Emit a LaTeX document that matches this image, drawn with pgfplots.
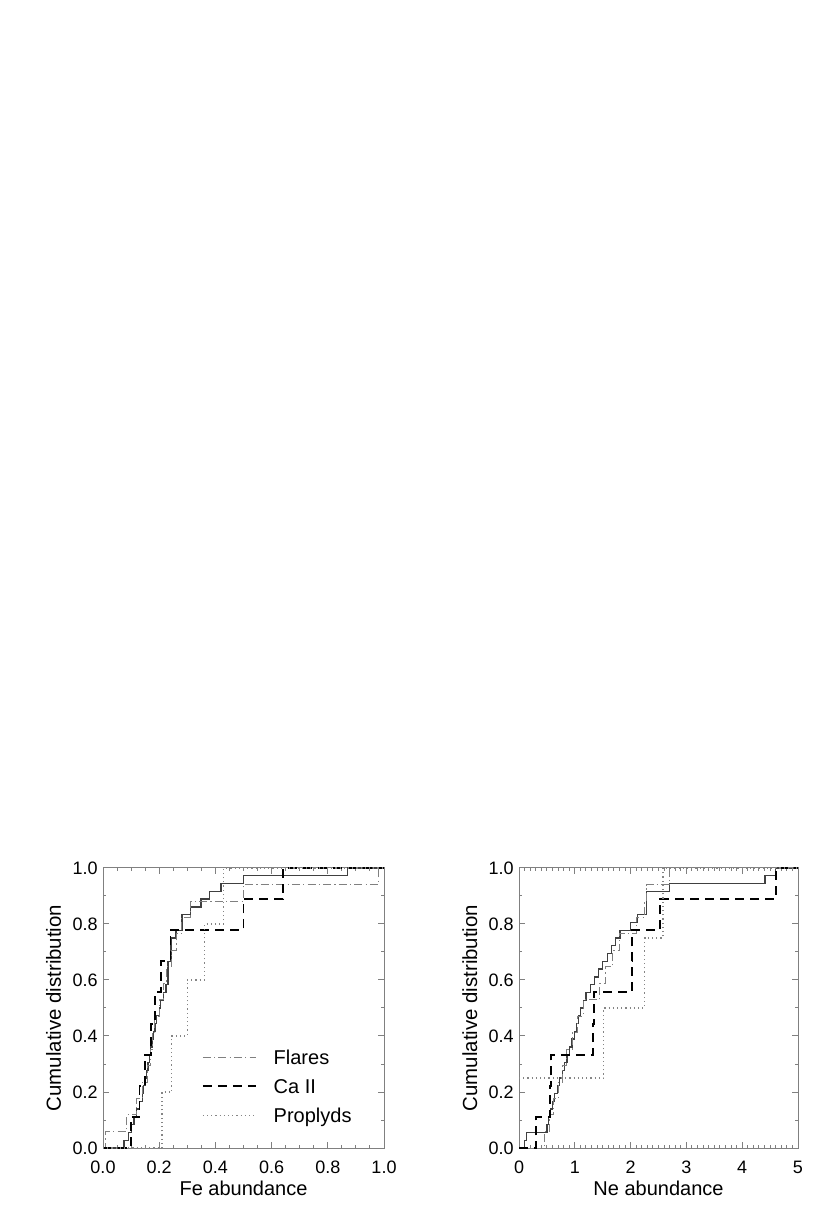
\documentclass[border=0pt]{standalone}
\usepackage{fontspec}
\setmainfont{Liberation Sans}
\usepackage{pgfplots}
\pgfplotsset{compat=1.18}

\tikzset{
  allS/.style={draw=black!75, line width=0.6pt},
  flareS/.style={draw=black!50, line width=0.5pt, dash pattern=on 4pt off 1.6pt on 0.6pt off 1.6pt},
  caS/.style={draw=black, line width=0.9pt, dash pattern=on 4.5pt off 3pt},
  propS/.style={draw=black!48, line width=0.6pt, dash pattern=on 0.6pt off 1.5pt},
}

\pgfplotsset{
  idl/.style={
    scale only axis, height=140pt,
    ymin=0, ymax=1, ytick={0,0.2,0.4,0.6,0.8,1}, minor y tick num=1,
    tick align=inside, tick pos=both,
    major tick length=3pt, minor tick length=1.5pt,
    axis line style={black!50, line width=0.5pt},
    every tick/.style={black!50, line width=0.5pt},
    font=\fontsize{9}{10.8}\selectfont,
    /pgf/number format/assume math mode=true,
    yticklabel style={/pgf/number format/fixed, /pgf/number format/fixed zerofill, /pgf/number format/precision=1, anchor=east, inner sep=0pt, xshift=-2.5pt},
    xticklabel style={anchor=center, inner sep=0pt, yshift=-9.5pt},
    every axis y label/.style={at={(axis description cs:-0.176,0.5)}, rotate=90, anchor=center, font=\fontsize{10.2}{12}\selectfont},
    every axis x label/.style={at={(axis description cs:0.5,-0.143)}, anchor=center, font=\fontsize{10}{12}\selectfont},
    ylabel={Cumulative distribution},
    clip=false,
    const plot,
  }
}

\begin{document}
\begin{tikzpicture}
\path[use as bounding box] (0,0) rectangle (415pt,607pt);

% ---------- Fe abundance ----------
\begin{axis}[idl, at={(51.5pt,33pt)}, anchor=south west, width=140.5pt,
  xmin=0, xmax=1, xtick={0,0.2,0.4,0.6,0.8,1}, minor x tick num=3,
  xticklabel style={/pgf/number format/fixed, /pgf/number format/fixed zerofill, /pgf/number format/precision=1},
  xlabel={Fe abundance},
  legend style={at={(axis cs:0.352,0.35)}, anchor=north west, draw=none, fill=none,
    inner sep=0pt, outer sep=0pt, row sep=7.4pt, column sep=8.5pt,
    nodes={inner sep=0pt, text height=7.1pt, text depth=0pt},
    font=\fontsize{10}{12}\selectfont},
  legend image code/.code={\draw[#1] (0pt,0pt) -- (26.5pt,0pt);},
  legend cell align=left]
\addplot[allS, forget plot] coordinates {
(0,0) (0.075,0.028) (0.09,0.056) (0.10,0.083) (0.11,0.111) (0.12,0.139) (0.13,0.167)
(0.14,0.194) (0.145,0.222) (0.15,0.25) (0.155,0.278) (0.16,0.306) (0.165,0.333)
(0.17,0.361) (0.175,0.389) (0.18,0.417) (0.185,0.444) (0.19,0.472) (0.20,0.5)
(0.205,0.528) (0.215,0.556) (0.224,0.583) (0.231,0.667) (0.242,0.75) (0.26,0.778)
(0.281,0.833) (0.31,0.861) (0.349,0.889) (0.38,0.917) (0.42,0.944) (0.50,0.972)
(0.87,1.0) (1.0,1.0)};
\addplot[flareS] coordinates {
(0,0) (0.01,0.059) (0.085,0.118) (0.12,0.176) (0.14,0.235) (0.16,0.294) (0.17,0.353)
(0.175,0.412) (0.185,0.471) (0.20,0.529) (0.215,0.588) (0.225,0.647) (0.245,0.706)
(0.26,0.765) (0.28,0.824) (0.31,0.882) (0.50,0.941) (0.98,1.0) (1.0,1.0)};
\addlegendentry{Flares}
\addplot[caS] coordinates {
(0,0) (0.10,0.111) (0.13,0.222) (0.15,0.333) (0.17,0.444) (0.185,0.556) (0.205,0.667)
(0.24,0.778) (0.50,0.889) (0.64,1.0) (1.0,1.0)};
\addlegendentry{Ca II}
\addplot[propS] coordinates {
(0,0) (0.21,0.2) (0.245,0.4) (0.30,0.6) (0.36,0.8) (0.43,1.0) (1.0,1.0)};
\addlegendentry{Proplyds}
\end{axis}

% ---------- Ne abundance ----------
\begin{axis}[idl, at={(259.5pt,33pt)}, anchor=south west, width=139.5pt,
  xmin=0, xmax=5, xtick={0,1,2,3,4,5}, minor x tick num=9,
  xlabel={Ne abundance}]
\addplot[allS] coordinates {
(0,0) (0.10,0.028) (0.14,0.056) (0.50,0.083) (0.53,0.111) (0.56,0.139) (0.60,0.167)
(0.64,0.194) (0.69,0.222) (0.73,0.25) (0.78,0.278) (0.82,0.306) (0.86,0.333)
(0.91,0.361) (0.95,0.389) (1.00,0.417) (1.03,0.444) (1.07,0.472) (1.10,0.5)
(1.15,0.528) (1.20,0.556) (1.28,0.583) (1.36,0.611) (1.43,0.639) (1.50,0.667)
(1.58,0.694) (1.66,0.722) (1.73,0.75) (1.81,0.778) (2.00,0.806) (2.13,0.833)
(2.29,0.917) (2.69,0.944) (4.41,0.972) (4.60,1.0) (5,1.0)};
\addplot[flareS] coordinates {
(0,0) (0.45,0.059) (0.55,0.118) (0.62,0.176) (0.70,0.235) (0.78,0.294) (0.85,0.353)
(0.95,0.412) (1.05,0.471) (1.15,0.529) (1.45,0.588) (1.55,0.647) (1.68,0.706)
(1.80,0.765) (2.10,0.824) (2.25,0.882) (2.28,0.941) (2.69,1.0) (5,1.0)};
\addplot[caS] coordinates {
(0,0) (0.31,0.111) (0.55,0.222) (0.58,0.333) (1.33,0.444) (1.34,0.556) (2.02,0.667)
(2.03,0.778) (2.53,0.889) (4.60,1.0) (5,1.0)};
\addplot[propS] coordinates {
(0,0.25) (1.52,0.5) (2.25,0.75) (2.58,1.0) (5,1.0)};
\end{axis}
\end{tikzpicture}
\end{document}
